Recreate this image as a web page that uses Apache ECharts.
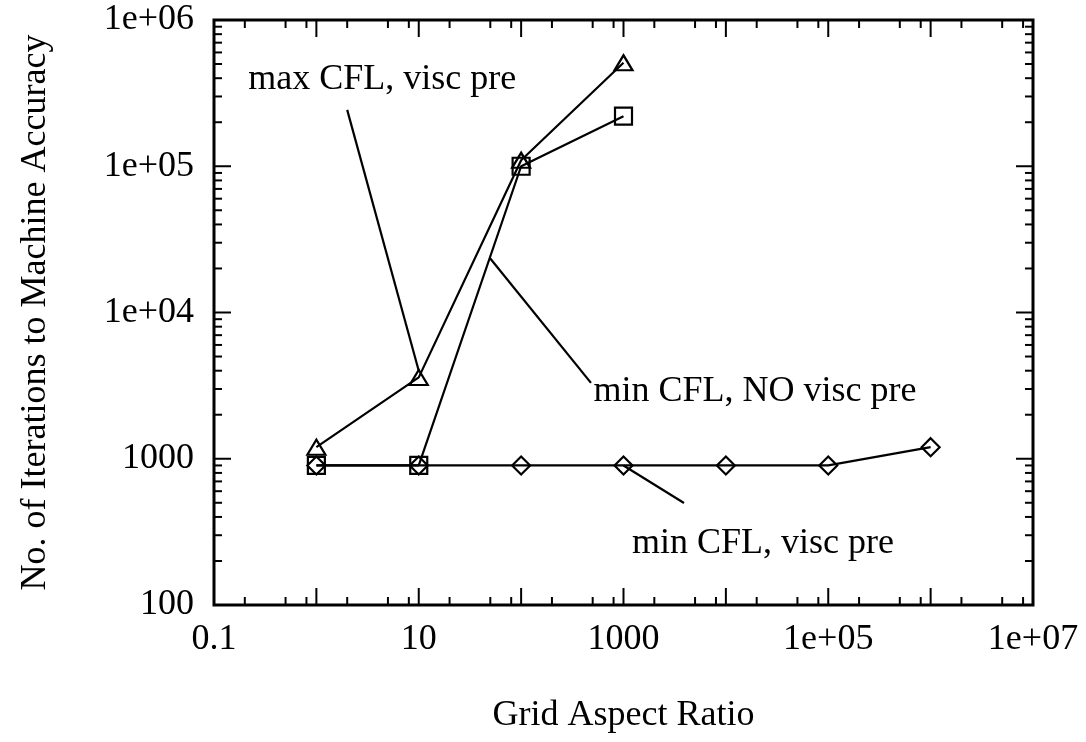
<!DOCTYPE html>
<html>
<head>
<meta charset="utf-8">
<script src="https://cdn.jsdelivr.net/npm/echarts@6/dist/echarts.min.js"></script>
<style>
  html, body { margin: 0; padding: 0; background: #fff; }
  #chart { width: 1086px; height: 742px; }
</style>
</head>
<body>
<div id="chart"></div>
<script>
const FONT = '"Liberation Serif", "Times New Roman", Times, serif';

// Iterations to machine accuracy vs. grid aspect ratio, one pair of arrays per run
const maxCflViscX = [1, 10, 100, 1000];
const maxCflViscY = [1200, 3600, 110000, 510000];
const minCflNoViscX = [1, 10, 100, 1000];
const minCflNoViscY = [900, 900, 100000, 220000];
const minCflViscX = [1, 10, 100, 1000, 1e4, 1e5, 1e6];
const minCflViscY = [900, 900, 900, 900, 900, 900, 1200];

// Axis ranges and tick labels (keyed by decade exponent)
const xRange = [0.1, 1e7];
const yRange = [100, 1e6];
const xTickLabels = { '-1': '0.1', '1': '10', '3': '1000', '5': '1e+05', '7': '1e+07' };
const yTickLabels = { '2': '100', '3': '1000', '4': '1e+04', '5': '1e+05', '6': '1e+06' };
const xMajorTicks = [0.1, 1, 10, 100, 1000, 1e4, 1e5, 1e6, 1e7];
const yMajorTicks = [100, 1000, 1e4, 1e5, 1e6];
const xMinorSteps = [2, 5, 8];
const yMinorSteps = [2, 3, 4, 5, 6, 7, 8, 9];

// Callout texts with their positions and leader lines, in data units
const calloutLabels = ['max CFL, visc pre', 'min CFL, NO visc pre', 'min CFL, visc pre'];
const calloutTextAt = [[4.4, 3.9e5], [19200, 2860], [23000, 265]];
const calloutLineFrom = [[2.0, 2.43e5], [481, 3300], [3900, 498]];
const calloutLineTo = [[10, 4000], [49.5, 23600], [1000, 900]];

const zip = (xs, ys) => xs.map((x, i) => [x, ys[i]]);

function minorTicks(majors, steps) {
  const out = [];
  for (let i = 0; i < majors.length - 1; i++) {
    steps.forEach(s => out.push(majors[i] * s));
  }
  return out;
}

const MAJOR_LEN = 17;
const MINOR_LEN = 8;
const LINE_W = 2.2;

const chart = echarts.init(document.getElementById('chart'), null, { renderer: 'canvas' });

function seriesStyle(symbol, size) {
  return {
    type: 'line',
    symbol: symbol,
    symbolSize: size,
    showAllSymbol: true,
    lineStyle: { color: '#000', width: LINE_W },
    itemStyle: { color: 'rgba(0,0,0,0)', borderColor: '#000', borderWidth: LINE_W },
    emphasis: { disabled: true },
    z: 3
  };
}

const option = {
  backgroundColor: '#fff',
  animation: false,
  grid: {
    left: 214, right: 53, top: 20, bottom: 137,
    show: true, borderColor: '#000', borderWidth: 3, backgroundColor: 'rgba(0,0,0,0)'
  },
  xAxis: {
    type: 'log', logBase: 10, min: xRange[0], max: xRange[1],
    name: 'Grid Aspect Ratio', nameLocation: 'middle', nameGap: 93,
    nameTextStyle: { fontFamily: FONT, fontSize: 36, color: '#000' },
    axisLine: { show: false }, axisTick: { show: false }, splitLine: { show: false },
    axisLabel: {
      fontFamily: FONT, fontSize: 36, color: '#000', margin: 17, showMinLabel: true, showMaxLabel: true,
      formatter: v => xTickLabels[String(Math.round(Math.log10(v)))] || ''
    }
  },
  yAxis: {
    type: 'log', logBase: 10, min: yRange[0], max: yRange[1],
    name: 'No. of Iterations to Machine Accuracy', nameLocation: 'middle', nameGap: 160,
    nameTextStyle: { fontFamily: FONT, fontSize: 36, color: '#000' },
    axisLine: { show: false }, axisTick: { show: false }, splitLine: { show: false },
    axisLabel: {
      fontFamily: FONT, fontSize: 36, color: '#000', margin: 20, showMinLabel: true, showMaxLabel: true,
      formatter: v => yTickLabels[String(Math.round(Math.log10(v)))] || ''
    }
  },
  series: [
    Object.assign(seriesStyle('triangle', [18, 15]), { name: 'max CFL, visc pre', data: zip(maxCflViscX, maxCflViscY) }),
    Object.assign(seriesStyle('rect', 17), { name: 'min CFL, NO visc pre', data: zip(minCflNoViscX, minCflNoViscY) }),
    Object.assign(seriesStyle('diamond', 18), { name: 'min CFL, visc pre', data: zip(minCflViscX, minCflViscY) }),
    {
      // callout texts and leader lines
      type: 'custom', coordinateSystem: 'cartesian2d', silent: true, z: 4, clip: false,
      data: calloutTextAt,
      renderItem: function (params, api) {
        const i = params.dataIndex;
        const t = api.coord(calloutTextAt[i]);
        const a = api.coord(calloutLineFrom[i]);
        const b = api.coord(calloutLineTo[i]);
        return {
          type: 'group',
          children: [
            { type: 'line', shape: { x1: a[0], y1: a[1], x2: b[0], y2: b[1] }, style: { stroke: '#000', lineWidth: LINE_W } },
            { type: 'text', x: t[0], y: t[1],
              style: { text: calloutLabels[i], fill: '#000', font: '36px ' + FONT, align: 'center', verticalAlign: 'middle' } }
          ]
        };
      }
    },
    {
      // inward ticks on all four sides of the frame
      type: 'custom', coordinateSystem: 'cartesian2d', silent: true, z: 5, clip: false,
      data: [[1, 1000]],
      renderItem: function (params, api) {
        const children = [];
        const seg = (x1, y1, x2, y2) => children.push({
          type: 'line', shape: { x1, y1, x2, y2 }, style: { stroke: '#000', lineWidth: 2 }
        });
        const xt = xMajorTicks.map(v => [v, MAJOR_LEN]).concat(minorTicks(xMajorTicks, xMinorSteps).map(v => [v, MINOR_LEN]));
        const yt = yMajorTicks.map(v => [v, MAJOR_LEN]).concat(minorTicks(yMajorTicks, yMinorSteps).map(v => [v, MINOR_LEN]));
        xt.forEach(([v, len]) => {
          const b = api.coord([v, yRange[0]]);
          const t = api.coord([v, yRange[1]]);
          seg(b[0], b[1], b[0], b[1] - len);
          seg(t[0], t[1], t[0], t[1] + len);
        });
        yt.forEach(([v, len]) => {
          const l = api.coord([xRange[0], v]);
          const r = api.coord([xRange[1], v]);
          seg(l[0], l[1], l[0] + len, l[1]);
          seg(r[0], r[1], r[0] - len, r[1]);
        });
        return { type: 'group', children };
      }
    }
  ]
};

chart.setOption(option);
</script>
</body>
</html>
